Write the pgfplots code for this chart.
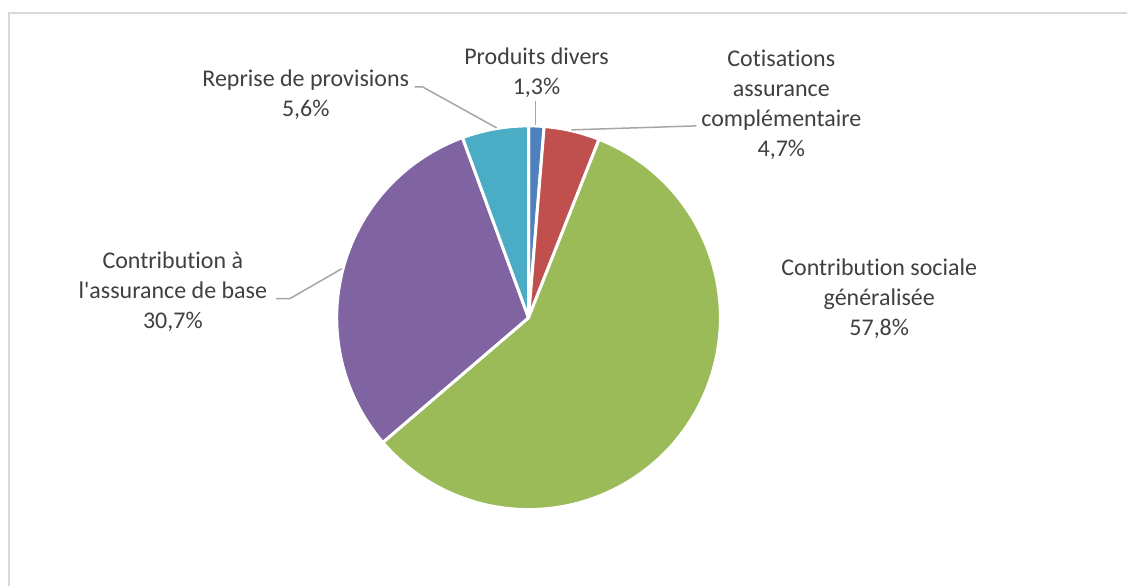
\documentclass[border=0pt]{standalone}
\usepackage{pgfplots}
\pgfplotsset{compat=1.18}
\usepackage{pgfplotstable}
\usepackage{fontspec}
\setmainfont{Carlito}
\newfontfamily\lbl{Carlito}[Ligatures={ResetAll,NoCommon}]
\definecolor{c1}{HTML}{4F81BD}
\definecolor{c2}{HTML}{C0504D}
\definecolor{c3}{HTML}{9BBB59}
\definecolor{c4}{HTML}{8064A2}
\definecolor{c5}{HTML}{4BACC6}
\definecolor{txt}{HTML}{404040}
\definecolor{lead}{HTML}{A6A6A6}
\definecolor{frame}{HTML}{D9D9D9}

\pgfplotstableread[col sep=comma]{
value,color
1.3,c1
4.7,c2
57.8,c3
30.7,c4
5.6,c5
}\piedata

\begin{document}
\begin{tikzpicture}
\begin{axis}[
  scale only axis, width=564pt, height=293.5pt,
  xmin=0, xmax=1128, ymin=0, ymax=587,
  hide axis, clip=false,
]
\fill[white] (axis cs:0,0) rectangle (axis cs:1128,587);
\draw[frame, line width=1pt] (axis cs:9,0) -- (axis cs:9,574) -- (axis cs:1128,574);
\pgfplotstablegetrowsof{\piedata}
\pgfmathtruncatemacro\nrows{\pgfplotsretval-1}
\xdef\startangle{90}
\pgfplotsforeachungrouped \i in {0,...,\nrows}{%
  \pgfplotstablegetelem{\i}{value}\of\piedata \let\pv\pgfplotsretval
  \pgfplotstablegetelem{\i}{color}\of\piedata \let\pc\pgfplotsretval
  \pgfmathsetmacro\endangle{\startangle-\pv/100.1*360}%
  \edef\temp{\noexpand\fill[\pc, draw=white, line width=1.5pt, line join=round] (axis cs:529,269) -- ++(\startangle:96pt) arc[start angle=\startangle, end angle=\endangle, radius=96pt] -- cycle;}%
  \temp
  \xdef\startangle{\endangle}%
}
% leader lines
\draw[lead, line width=0.75pt] (axis cs:536,486) -- (axis cs:536,462);
\draw[lead, line width=0.75pt] (axis cs:415,500) -- (axis cs:423,500) -- (axis cs:497,459);
\draw[lead, line width=0.75pt] (axis cs:572,457) -- (axis cs:697,461);
\draw[lead, line width=0.75pt] (axis cs:276,288) -- (axis cs:290,288) -- (axis cs:342,318);
% labels
\begin{scope}[every node/.style={text=txt, align=center, font=\lbl\fontsize{12}{15}\selectfont, inner sep=0pt}]
\node at (axis cs:537,514) {Produits divers\\1,3\%};
\node at (axis cs:782,482) {Cotisations\\assurance\\complémentaire\\4,7\%};
\node at (axis cs:880,288) {Contribution sociale\\généralisée\\57,8\%};
\node at (axis cs:173,295) {Contribution à\\l'assurance de base\\30,7\%};
\node at (axis cs:306,492) {Reprise de provisions\\5,6\%};
\end{scope}
\end{axis}
\end{tikzpicture}
\end{document}
